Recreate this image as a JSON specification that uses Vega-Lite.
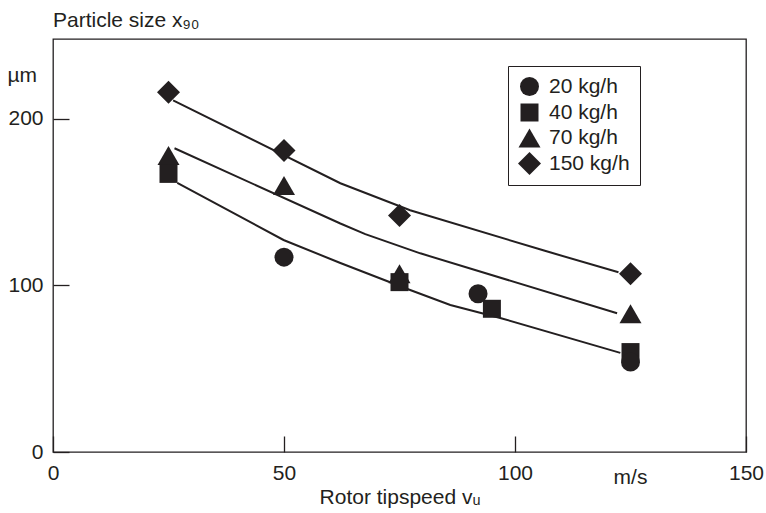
{
  "$schema": "https://vega.github.io/schema/vega-lite/v6.json",
  "width": 693,
  "height": 413,
  "autosize": {"type": "none"},
  "padding": {"left": 53, "top": 39, "right": 20, "bottom": 61},
  "background": "white",
  "title": {"text": "Particle size x₉₀", "anchor": "start", "frame": "group", "fontSize": 21, "font": "Liberation Sans", "fontWeight": "normal", "color": "#231f20", "baseline": "alphabetic", "offset": -9},
  "config": {
    "view": {"stroke": "#231f20", "strokeWidth": 1.3},
    "axis": {"labelFont": "Liberation Sans", "labelFontSize": 21, "labelColor": "#231f20", "labelFlush": false, "tickColor": "#231f20", "tickWidth": 1.3, "titleFont": "Liberation Sans", "titleFontSize": 21, "titleFontWeight": "normal", "titleColor": "#231f20", "grid": false, "domain": false}
  },
  "datasets": {
    "pts": [
      {"v": 25, "x90": 216, "rate": "150 kg/h"},
      {"v": 50, "x90": 181, "rate": "150 kg/h"},
      {"v": 75, "x90": 142, "rate": "150 kg/h"},
      {"v": 125, "x90": 107, "rate": "150 kg/h"},
      {"v": 25, "x90": 178, "rate": "70 kg/h"},
      {"v": 50, "x90": 160, "rate": "70 kg/h"},
      {"v": 75, "x90": 107, "rate": "70 kg/h"},
      {"v": 125, "x90": 83, "rate": "70 kg/h"},
      {"v": 25, "x90": 167, "rate": "40 kg/h"},
      {"v": 75, "x90": 102, "rate": "40 kg/h"},
      {"v": 95, "x90": 86, "rate": "40 kg/h"},
      {"v": 125, "x90": 60, "rate": "40 kg/h"},
      {"v": 50, "x90": 117, "rate": "20 kg/h"},
      {"v": 92, "x90": 95, "rate": "20 kg/h"},
      {"v": 125, "x90": 54, "rate": "20 kg/h"}
    ],
    "lines": [
      {"curve": "upper", "v": 26.0, "x90": 211.2},
      {"curve": "upper", "v": 62.2, "x90": 161.4},
      {"curve": "upper", "v": 77.3, "x90": 145.2},
      {"curve": "upper", "v": 106.1, "x90": 121.1},
      {"curve": "upper", "v": 122.4, "x90": 107.9},
      {"curve": "middle", "v": 26.3, "x90": 182.4},
      {"curve": "middle", "v": 62.2, "x90": 137.2},
      {"curve": "middle", "v": 67.6, "x90": 130.8},
      {"curve": "middle", "v": 79.5, "x90": 119.3},
      {"curve": "middle", "v": 122.1, "x90": 83.3},
      {"curve": "lower", "v": 26.9, "x90": 161.6},
      {"curve": "lower", "v": 49.9, "x90": 127.3},
      {"curve": "lower", "v": 62.2, "x90": 113.5},
      {"curve": "lower", "v": 77.3, "x90": 97.3},
      {"curve": "lower", "v": 86.0, "x90": 88.3},
      {"curve": "lower", "v": 96.8, "x90": 80.5},
      {"curve": "lower", "v": 122.8, "x90": 59.5}
    ]
  },
  "layer": [
    {
      "data": {"name": "lines"},
      "mark": {"type": "line", "color": "#231f20", "strokeWidth": 2},
      "encoding": {
        "x": {"field": "v", "type": "quantitative", "scale": {"domain": [0, 150], "nice": false},
              "axis": {"orient": "bottom", "title": "m/s", "labels": false, "ticks": false, "domain": false, "titleX": 577, "titleY": 31, "titleAlign": "center", "titleBaseline": "alphabetic"}},
        "y": {"field": "x90", "type": "quantitative", "scale": {"domain": [0, 248], "nice": false},
              "axis": {"title": "µm", "values": [0, 100, 200], "tickSize": -16, "labelPadding": 26, "titleAngle": 0, "titleAlign": "left", "titleBaseline": "alphabetic", "titleX": -46, "titleY": 42}},
        "detail": {"field": "curve"}
      }
    },
    {
      "data": {"name": "pts"},
      "mark": {"type": "point", "filled": true, "opacity": 1, "color": "#231f20", "strokeWidth": 0},
      "encoding": {
        "x": {"field": "v", "type": "quantitative",
              "axis": {"orient": "bottom", "title": "Rotor tipspeed vᵤ", "values": [0, 50, 100, 150], "tickSize": -16, "labelPadding": 26, "titleY": 51, "titleBaseline": "alphabetic"}},
        "y": {"field": "x90", "type": "quantitative",
              "axis": {"title": "µm", "values": [0, 100, 200], "tickSize": -16, "labelPadding": 26, "titleAngle": 0, "titleAlign": "left", "titleBaseline": "alphabetic", "titleX": -46, "titleY": 42}},
        "shape": {"field": "rate", "type": "nominal",
                  "scale": {"domain": ["20 kg/h", "40 kg/h", "70 kg/h", "150 kg/h"], "range": ["circle", "square", "triangle-up", "diamond"]},
                  "legend": {"orient": "none", "legendX": 455, "legendY": 27, "title": null, "strokeColor": "#231f20", "fillColor": "white", "padding": 10, "labelFont": "Liberation Sans", "labelFontSize": 21, "labelColor": "#231f20", "labelOffset": 8, "rowPadding": 4, "symbolFillColor": "#231f20", "symbolStrokeWidth": 0}},
        "size": {"field": "rate", "type": "nominal",
                 "scale": {"type": "ordinal", "domain": ["20 kg/h", "40 kg/h", "70 kg/h", "150 kg/h"], "range": [361, 324, 484, 529]},
                 "legend": {"orient": "none", "legendX": 455, "legendY": 27, "title": null, "strokeColor": "#231f20", "fillColor": "white", "padding": 10, "labelFont": "Liberation Sans", "labelFontSize": 21, "labelColor": "#231f20", "labelOffset": 8, "rowPadding": 4, "symbolFillColor": "#231f20", "symbolStrokeWidth": 0}}
      }
    }
  ],
  "resolve": {"axis": {"x": "independent"}}
}
